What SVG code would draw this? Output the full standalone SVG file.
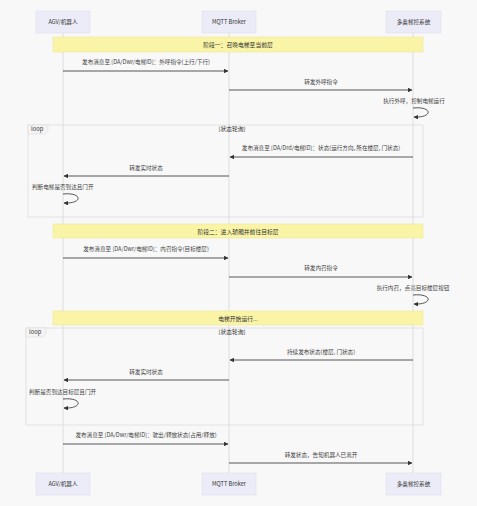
<svg xmlns="http://www.w3.org/2000/svg" width="477" height="506" viewBox="0 0 477 506">
<defs>
<marker id="ah" viewBox="0 0 10 10" refX="9" refY="5" markerWidth="5" markerHeight="5" orient="auto-start-reverse">
<path d="M0,0 L10,5 L0,10 z" fill="#333"/>
</marker>
<style>
text{font-family:"Noto Sans CJK SC","Liberation Sans",sans-serif;fill:#333;}
.actor rect{fill:#ECECF8;stroke:#E2E2EE;stroke-width:0.6;}
.actor text{font-size:5.6px;text-anchor:middle;dominant-baseline:central;}
.life{stroke:#d6d6d6;stroke-width:0.8;}
.note rect{fill:#FAF5A6;stroke:#EDE79A;stroke-width:0.6;}
.note text{font-size:5.8px;text-anchor:middle;dominant-baseline:central;}
.msg{stroke:#444;stroke-width:0.9;fill:none;marker-end:url(#ah);}
.lbl{font-size:5.6px;text-anchor:middle;fill:#444;}
.lbl2{font-size:5.6px;text-anchor:start;fill:#444;}
.frame{fill:none;stroke:#dcdcdc;stroke-width:0.8;}
.ftxt{font-size:5.8px;fill:#333;}
</style>
</defs>
<rect width="477" height="506" fill="#f8f8f8"/>
<g id="lifelines">
<line class="life" x1="63" y1="33" x2="63" y2="473"/>
<line class="life" x1="229" y1="33" x2="229" y2="473"/>
<line class="life" x1="413" y1="33" x2="413" y2="473"/>
</g>
<g id="actor-agv" class="actor">
<rect x="36" y="11" width="54" height="22"/><text x="63" y="22">AGV/机器人</text>
<rect x="36" y="473" width="54" height="22"/><text x="63" y="484">AGV/机器人</text>
</g>
<g id="actor-mqtt" class="actor">
<rect x="202" y="11" width="54" height="22"/><text x="229" y="22">MQTT Broker</text>
<rect x="202" y="473" width="54" height="22"/><text x="229" y="484">MQTT Broker</text>
</g>
<g id="actor-sys" class="actor">
<rect x="386" y="11" width="55" height="22"/><text x="413.5" y="22">多奥梯控系统</text>
<rect x="386" y="473" width="55" height="22"/><text x="413.5" y="484">多奥梯控系统</text>
</g>
<g id="note-phase1" class="note">
<rect x="53" y="37" width="370" height="15"/><text x="238" y="44.5">阶段一：召唤电梯至当前层</text>
</g>
<g id="note-phase2" class="note">
<rect x="53" y="224" width="370" height="14"/><text x="238" y="231">阶段二：进入轿厢并前往目标层</text>
</g>
<g id="note-run" class="note">
<rect x="53" y="311" width="370" height="14"/><text x="238" y="318">电梯开始运行...</text>
</g>
<g id="loop1">
<rect class="frame" x="28" y="125" width="395" height="92"/>
<path d="M28,125 H48 V131 L45,134 H28 Z" fill="#f4f4f4" stroke="#dcdcdc" stroke-width="0.6"/>
<text class="ftxt" x="31" y="131">loop</text>
<text class="ftxt" x="232" y="131" text-anchor="middle">[状态轮询]</text>
</g>
<g id="loop2">
<rect class="frame" x="26" y="328" width="397" height="97"/>
<path d="M26,328 H46 V334 L43,337 H26 Z" fill="#f4f4f4" stroke="#dcdcdc" stroke-width="0.6"/>
<text class="ftxt" x="29" y="334">loop</text>
<text class="ftxt" x="232" y="334" text-anchor="middle">[状态轮询]</text>
</g>
<g id="connectors">
<text class="lbl" x="146" y="64">发布消息至 [DA/Dwr/电梯ID]：外呼指令(上行/下行)</text>
<line class="msg" x1="63" y1="71" x2="228" y2="71"/>
<text class="lbl" x="321" y="84">转发外呼指令</text>
<line class="msg" x1="229" y1="90" x2="412" y2="90"/>
<text class="lbl" x="414" y="103">执行外呼，控制电梯运行</text>
<path class="msg" d="M413,108 C433,106 433,118 414,117"/>

<text class="lbl" x="321" y="150">发布消息至 [DA/Drd/电梯ID]：状态(运行方向, 所在楼层, 门状态)</text>
<line class="msg" x1="413" y1="157" x2="230" y2="157"/>
<text class="lbl" x="146" y="170">转发实时状态</text>
<line class="msg" x1="229" y1="176" x2="64" y2="176"/>
<text class="lbl2" x="32" y="189">判断电梯是否到达且门开</text>
<path class="msg" d="M63,194 C83,192 83,204 64,203"/>

<text class="lbl" x="146" y="251">发布消息至 [DA/Dwr/电梯ID]：内召指令(目标楼层)</text>
<line class="msg" x1="63" y1="258" x2="228" y2="258"/>
<text class="lbl" x="321" y="270">转发内召指令</text>
<line class="msg" x1="229" y1="277" x2="412" y2="277"/>
<text class="lbl" x="413" y="290">执行内召，点亮目标楼层按钮</text>
<path class="msg" d="M413,295 C433,293 433,305 414,304"/>

<text class="lbl" x="321" y="354">持续发布状态(楼层, 门状态)</text>
<line class="msg" x1="413" y1="360" x2="230" y2="360"/>
<text class="lbl" x="146" y="374">转发实时状态</text>
<line class="msg" x1="229" y1="380" x2="64" y2="380"/>
<text class="lbl2" x="29" y="394">判断是否到达目标层且门开</text>
<path class="msg" d="M63,399 C83,397 83,409 64,408"/>

<text class="lbl" x="146" y="437">发布消息至 [DA/Dwr/电梯ID]：驶出/释放状态(占用/释放)</text>
<line class="msg" x1="63" y1="444" x2="228" y2="444"/>
<text class="lbl" x="321" y="457">转发状态，告知机器人已离开</text>
<line class="msg" x1="229" y1="463" x2="412" y2="463"/>
</g>
</svg>
